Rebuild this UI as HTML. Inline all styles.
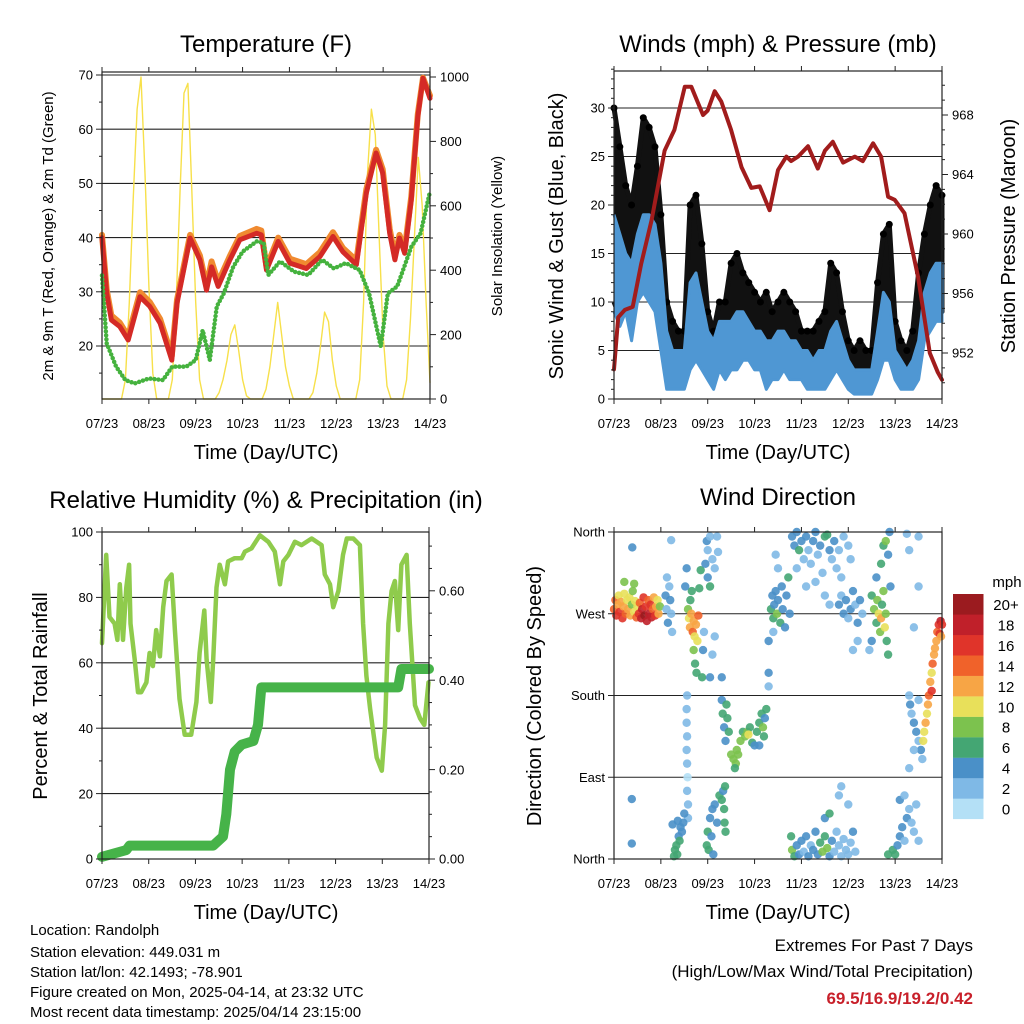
<!DOCTYPE html>
<html><head><meta charset="utf-8"><title>Station Meteogram</title>
<style>
html,body{margin:0;padding:0;background:#fff;}
svg{display:block;font-family:"Liberation Sans",Arial,sans-serif;}
</style></head>
<body>
<svg id="chart" width="1024" height="1024" viewBox="0 0 1024 1024" xmlns="http://www.w3.org/2000/svg">
<rect x="0" y="0" width="1024" height="1024" fill="#fff"/>
<text x="266" y="52" font-size="24" text-anchor="middle">Temperature (F)</text>
<text x="778" y="52" font-size="24" text-anchor="middle">Winds (mph) &amp; Pressure (mb)</text>
<text x="266" y="508" font-size="24" text-anchor="middle">Relative Humidity (%) &amp; Precipitation (in)</text>
<text x="778" y="505" font-size="24" text-anchor="middle">Wind Direction</text>
<text x="266" y="459" font-size="20" text-anchor="middle">Time (Day/UTC)</text>
<text x="778" y="459" font-size="20" text-anchor="middle">Time (Day/UTC)</text>
<text x="266" y="919" font-size="20" text-anchor="middle">Time (Day/UTC)</text>
<text x="778" y="919" font-size="20" text-anchor="middle">Time (Day/UTC)</text>
<text transform="translate(53,236) rotate(-90)" font-size="15" text-anchor="middle">2m &amp; 9m T (Red, Orange) &amp; 2m Td (Green)</text>
<text transform="translate(502,236) rotate(-90)" font-size="15" text-anchor="middle">Solar Insolation (Yellow)</text>
<text transform="translate(563,236) rotate(-90)" font-size="20" text-anchor="middle">Sonic Wind &amp; Gust (Blue, Black)</text>
<text transform="translate(1015,236) rotate(-90)" font-size="20" text-anchor="middle">Station Pressure (Maroon)</text>
<text transform="translate(47,696) rotate(-90)" font-size="20" text-anchor="middle">Percent &amp; Total Rainfall</text>
<text transform="translate(541,696) rotate(-90)" font-size="20" text-anchor="middle">Direction (Colored By Speed)</text>
<g font-size="15">
<text x="30" y="935">Location: Randolph</text>
<text x="30" y="957">Station elevation: 449.031 m</text>
<text x="30" y="977">Station lat/lon: 42.1493; -78.901</text>
<text x="30" y="997">Figure created on Mon, 2025-04-14, at 23:32 UTC</text>
<text x="30" y="1017">Most recent data timestamp: 2025/04/14 23:15:00</text>
</g>
<text x="973" y="951" font-size="17" text-anchor="end">Extremes For Past 7 Days</text>
<text x="973" y="977" font-size="17" text-anchor="end">(High/Low/Max Wind/Total Precipitation)</text>
<text x="973" y="1004" font-size="17" font-weight="bold" fill="#c8202a" text-anchor="end">69.5/16.9/19.2/0.42</text>
<text x="1007" y="587" font-size="15" text-anchor="middle">mph</text>
</svg>
<script>
// ---------- DATA ----------
var dayLabels = ["07/23","08/23","09/23","10/23","11/23","12/23","13/23","14/23"];
var tempDays = [0,0.1,0.2,0.38,0.56,0.81,1.02,1.24,1.49,1.6,1.88,2.09,2.23,2.34,2.48,2.73,2.94,3.3,3.4,3.51,3.76,4.01,4.36,4.65,4.93,5.14,5.43,5.64,5.85,5.99,6.14,6.25,6.35,6.46,6.6,6.74,6.85,7.0];
var temp9m = [40,29.7,24.8,23.6,21.1,29.1,27.3,24.2,17.4,27.9,39.9,35.9,30.3,34.6,31,35.9,39.6,40.8,40.5,34,39.3,35.3,34.3,36.5,40.2,37.4,35,48.2,55.6,51.9,40.8,35.9,39.9,37.1,47,62.3,69.4,65.7];
var temp2m = [40.5,30.4,25.6,24.3,21.8,29.9,28.1,25,18.2,28.5,40.5,36.7,31.1,35.6,31.8,36.6,40.3,41.6,41.3,34.6,40,36.1,35.1,37.3,41,38.1,35.8,48.9,56.2,52.6,41.6,36.6,40.5,37.8,47.6,62.8,69.5,66.2];
var dewDays = [0,0.1,0.3,0.5,0.7,1.0,1.3,1.5,1.8,2.0,2.15,2.3,2.45,2.6,2.8,3.0,3.3,3.45,3.55,3.8,4.1,4.4,4.7,4.95,5.2,5.5,5.7,5.95,6.1,6.3,6.45,6.6,6.8,7.0];
var dewVals = [33,20.5,16.2,13.7,13.1,14,13.7,16.2,16.2,17.4,22.9,17.4,27.3,29.7,34.6,37.4,39.3,39,33.1,35.6,33.7,33.1,35.9,34.3,35.3,34,29.7,19.9,29.7,31,34.6,38.3,40.8,48.5];
// solar every 2 hours from 07/23
var solarVals = [0,0,0,0,0,0,60,300,620,900,1000,700,350,80,0,0,0,0,60,300,650,950,980,650,300,60,0,0,0,0,20,60,120,200,230,150,60,10,0,0,0,0,30,100,200,300,200,100,40,0,0,0,0,0,20,80,170,270,240,120,40,0,0,0,0,0,60,300,700,900,820,500,200,40,0,0,0,0,60,250,500,750,600,300,50];
// winds every 3 hours
var gustVals = [30,26,22,20,24,29,28,26,19,10,8,7,7,20,21,16,9,7,10,10,14,15,13,12,11,10,11,9,10,11,10,9,7,7,7,8,9,14,13,9,6,5,6,5,5,12,17,18,8,6,5,7,13,17,20,22,21];
var windHi = [19,17,15,14,17,19,19,18,14,7,5,5,5,12,13,10,7,6,8,8,8,9,9,8,7,7,6,6,7,7,6,6,5,5,4,5,5,7,8,6,4,3,3,3,3,7,11,10,5,4,3,4,6,11,13,14,14];
var windLo = [9,7.5,9,6,10,11,10,9,5,1,1,1,1,3,4,3,2,1,3,2,3,3,4,4,3,3,1,2,2,3,2,2,2,1,1,1,1,2,3,2,1,0.5,0.5,0.5,0.5,2,4,4,2,1,1,1,2,6,7,8,8];
var presDays = [0,0.09,0.23,0.4,0.58,0.8,1.08,1.29,1.51,1.65,1.9,2.0,2.15,2.29,2.5,2.72,2.93,3.11,3.32,3.5,3.68,3.78,3.93,4.14,4.35,4.5,4.67,4.89,5.14,5.31,5.53,5.7,5.85,5.99,6.2,6.49,6.74,6.91,7.0];
var presVals = [950.9,954.4,954.9,955.1,958,960.9,965.6,967,969.9,969.9,968,968.3,969.6,968.9,967,964.5,963.1,963.2,961.6,964.3,965.2,964.9,965.2,965.9,964.4,965.6,966.2,964.8,965.2,964.9,966.1,965.2,962.5,962.3,961.4,957.1,952,950.7,950.2];
var rhDays = [0,0.09,0.16,0.27,0.33,0.38,0.45,0.52,0.58,0.61,0.7,0.77,0.84,0.95,1.02,1.09,1.16,1.24,1.31,1.38,1.49,1.56,1.66,1.77,1.91,2.02,2.09,2.19,2.24,2.33,2.38,2.45,2.52,2.63,2.7,2.84,2.99,3.06,3.2,3.38,3.56,3.7,3.81,3.88,3.99,4.13,4.27,4.49,4.7,4.77,4.88,4.95,5.06,5.16,5.24,5.38,5.52,5.59,5.66,5.74,5.88,5.99,6.06,6.13,6.2,6.27,6.34,6.41,6.52,6.59,6.7,6.81,6.9,6.99];
var rhVals = [66,93,74,72,67,84,67,83,90,72,61,51,51,54,63,59,70,62,77,85,87,70,49,38,38,48,63,76,61,48,61,83,90,84,91,92,92,94,95,99,97,94,84,91,93,97,96,98,96,87,84,77,82,93,98,98,96,72,56,46,31,27,41,72,82,85,70,90,93,72,47,43,41,54];
var precDays = [0,0.52,0.59,2.38,2.59,2.66,2.74,2.84,2.99,3.24,3.34,3.41,6.34,6.41,7.0];
var precVals = [0.005,0.02,0.03,0.03,0.05,0.1,0.2,0.24,0.256,0.264,0.3,0.384,0.384,0.425,0.425];
var speedBins = ["0","2","4","6","8","10","12","14","16","18","20+"];
var speedColors = ["#b4e0f6","#7fb9e6","#4a90c8","#44a673","#7cc24e","#e8e05a","#f7a545","#f0622a","#e0342a","#c0202a","#9b1b1f"];
var dirObs = [
[0.0,275,14],[0.03,285,13],[0.05,268,16],[0.08,280,12],[0.1,290,10],[0.12,272,15],[0.15,283,12],[0.18,265,16],[0.2,278,11],[0.22,292,9],[0.25,270,13],[0.28,285,10],[0.3,275,12],[0.33,288,9],[0.35,268,11],[0.38,280,8],[0.4,295,8],[0.43,272,10],[0.45,284,9],[0.48,266,13],[0.5,278,10],[0.53,270,16],[0.55,282,14],[0.58,265,18],[0.6,275,17],[0.63,288,15],[0.65,268,19],[0.68,278,16],[0.7,262,18],[0.73,285,13],[0.75,270,17],[0.78,280,15],[0.8,266,17],[0.83,275,14],[0.85,288,12],[0.88,268,15],[0.9,278,11],[0.93,285,9],[0.95,270,12],[0.98,278,8],[0.22,305,7],[0.43,303,8],[0.39,343,4],[0.38,17,4],[0.38,66,3],
[1.1,290,3],[1.12,275,2],[1.15,260,3],[1.18,300,2],[1.2,285,4],[1.22,270,2],[1.13,310,2],[1.24,250,2],[1.22,351,2],
[1.58,275,8],[1.6,265,10],[1.62,255,12],[1.65,270,11],[1.68,250,13],[1.7,262,12],[1.72,245,9],[1.75,258,11],[1.78,240,10],[1.8,268,13],[1.63,285,6],[1.66,295,6],[1.7,230,7],[1.73,215,6],[1.76,205,6],[1.55,320,3],[1.52,300,4],[1.82,298,5],[1.85,318,5],[1.9,230,3],[1.92,250,2],[1.88,200,6],
[1.56,180,2],[1.55,165,2],[1.55,150,1],[1.56,135,2],[1.55,120,1],[1.56,105,1],[1.57,90,0],[1.56,75,1],[1.58,60,1],[1.58,45,2],
[1.3,10,6],[1.33,15,5],[1.35,5,6],[1.38,25,4],[1.4,20,5],[1.42,35,4],[1.45,30,4],[1.48,40,3],[1.5,50,3],[1.28,3,5],[1.25,38,4],[1.36,42,4],
[1.98,15,6],[2.0,30,5],[2.02,10,6],[2.05,45,4],[2.08,25,3],[2.1,55,3],[2.12,5,4],[2.15,60,4],[2.2,40,3],[2.25,70,5],[2.3,65,6],[2.35,55,6],[2.36,40,6],[2.38,30,6],[2.33,75,4],[2.37,80,5],
[1.98,350,3],[2.0,340,2],[2.05,355,2],[2.1,330,2],[2.15,320,1],[2.2,355,1],[2.22,338,1],[1.95,325,3],[2.0,310,4],[2.05,300,5],[2.05,200,3],[2.1,225,2],[2.15,245,2],
[2.3,175,4],[2.32,160,6],[2.35,145,4],[2.38,130,4],[2.4,170,6],[2.42,155,6],[2.45,140,6],[2.5,115,8],[2.55,110,8],[2.6,105,8],[2.65,115,8],[2.62,120,8],[2.58,100,6],[2.7,130,8],[2.75,140,6],[2.8,135,8],[2.85,140,8],[2.9,145,6],[2.87,137,10],[2.95,128,6],[3.0,125,4],[3.05,140,6],[3.1,150,6],[3.15,160,6],[3.2,135,6],[3.22,155,4],[3.25,165,6],[3.18,145,8],[3.1,125,4],[2.3,200,4],[3.3,205,4],[3.3,190,1],
[3.35,275,6],[3.38,290,4],[3.4,265,6],[3.42,280,4],[3.45,295,4],[3.48,270,8],[3.5,285,4],[3.55,260,6],[3.58,300,4],[3.6,275,4],[3.65,255,4],[3.68,290,4],[3.72,310,5],[3.75,270,4],[3.4,250,2],[3.3,240,3],[3.5,320,2],[3.45,335,1],
[3.8,355,4],[3.85,345,4],[3.9,360,4],[3.95,340,6],[4.0,350,4],[4.05,330,2],[4.1,355,4],[4.15,340,2],[4.2,325,2],[4.25,350,4],[4.3,360,4],[4.35,335,2],[4.4,345,4],[4.45,315,2],[4.5,355,6],[4.55,357,6],[4.6,340,4],[4.65,330,2],[4.7,350,4],[4.75,320,2],[4.8,340,2],[4.85,310,2],[4.9,355,2],[5.0,345,2],[5.05,330,2],[3.9,320,2],[4.1,300,2],[4.3,305,2],[4.5,290,2],[4.6,280,2],
[4.8,280,4],[4.85,290,2],[4.9,270,4],[4.95,285,4],[5.0,265,2],[5.05,275,4],[5.1,295,4],[5.15,280,2],[5.2,260,4],[5.25,285,4],[5.3,270,2],[5.2,240,2],[5.1,230,2],
[5.5,290,6],[5.55,275,8],[5.6,260,6],[5.62,285,8],[5.65,270,10],[5.68,250,8],[5.7,265,12],[5.72,280,6],[5.75,295,8],[5.78,255,10],[5.8,270,8],[5.82,240,6],[5.85,225,6],[5.6,310,4],[5.7,325,6],[5.75,345,6],[5.8,350,8],[5.85,335,4],[5.88,360,4],[5.9,300,4],[5.5,240,4],[5.45,230,2],
[3.78,25,6],[3.8,10,8],[3.85,3,6],[3.9,15,4],[3.95,5,4],[4.0,20,4],[4.05,8,2],[4.1,25,4],[4.15,3,4],[4.2,15,2],[4.25,10,4],[4.3,30,4],[4.35,5,4],[4.4,18,6],[4.45,8,8],[4.5,25,6],[4.55,12,8],[4.6,3,4],[4.65,20,4],[4.7,8,2],[4.75,30,2],[4.8,15,2],[4.85,3,2],[4.9,22,2],[4.95,10,2],[5.0,5,2],[5.05,18,2],[5.1,30,4],[5.15,8,2],[4.5,45,4],[4.6,50,6],[4.8,70,2],[4.85,80,2],[5.0,60,2],
[5.95,10,6],[6.0,5,6],[6.05,15,4],[6.1,25,4],[6.15,35,4],[6.2,20,2],[6.25,45,4],[6.3,55,2],[6.35,40,2],[6.4,30,2],[6.45,60,2],[6.5,20,2],[6.1,65,4],[6.2,70,2],[5.85,5,6],
[6.3,180,2],[6.32,170,4],[6.35,160,2],[6.4,150,4],[6.45,140,4],[6.5,130,2],[6.55,120,4],[6.58,110,2],[6.4,120,2],[6.3,100,2],[6.5,175,2],
[6.6,130,10],[6.62,140,10],[6.65,150,12],[6.68,160,10],[6.7,170,12],[6.72,180,14],[6.75,195,12],[6.78,205,10],[6.8,215,14],[6.83,225,12],[6.85,232,11],[6.88,240,12],[6.9,250,14],[6.93,258,16],[6.95,248,15],[6.97,262,17],[7.0,258,16],[6.98,245,12],[6.78,185,16],
[6.25,358,2],[6.3,340,2],[6.5,355,2],[6.5,300,2],[6.4,255,2]
];
// ---------- DRAW ----------
var NS = "http://www.w3.org/2000/svg";
var svg = document.getElementById("chart");
function mk(tag, attrs, parent) {
  var el = document.createElementNS(NS, tag);
  for (var k in attrs) el.setAttribute(k, attrs[k]);
  (parent || svg).appendChild(el);
  return el;
}
function panel(L, R, T, B) { return {L:L, R:R, T:T, B:B, x:function(d){return L + d / 7 * (R - L);}}; }
var P1 = panel(102, 430, 72, 399), P2 = panel(614, 942, 71, 399), P3 = panel(102, 429, 532, 859), P4 = panel(614, 942, 532, 859);
function yT(v){return 346 - (v - 20) * 5.42;}
function ySol(v){return 399 - v * 0.322;}
function yW(v){return 399 - v * 9.7;}
function yP(v){return 353 - (v - 952) * 14.875;}
function yRH(v){return 859 - v * 3.27;}
function yPr(v){return 859 - v * 447;}
function yDir(v){return 859 - v / 360 * 327;}

function grid(P, ys, name) {
  for (var i = 0; i < ys.length; i++) {
    var g = mk("line", {x1:P.L, x2:P.R, y1:ys[i], y2:ys[i], stroke:"#222", "stroke-width":1.1});
    
    
  }
}
function frame(P, name) {
  var f = mk("rect", {x:P.L, y:P.T, width:P.R - P.L, height:P.B - P.T, fill:"none", stroke:"#222", "stroke-width":1.2});
  
  
  for (var i = 0; i < dayLabels.length; i++) {
    var x = P.x(i);
    var t1 = mk("line", {x1:x, x2:x, y1:P.B, y2:P.B + 5, stroke:"#222"});
    
    
    var t2 = mk("line", {x1:x, x2:x, y1:P.T, y2:P.T - 5, stroke:"#222"});
    
    
    var lb = mk("text", {x:x, y:P.B + 29, "font-size":13, "text-anchor":"middle"});
    lb.textContent = dayLabels[i];
    
    
  }
}
function yTicks(side, P, vals, fy, labels, fs, name, major) {
  for (var i = 0; i < vals.length; i++) {
    var y = fy(vals[i]);
    var isMaj = labels[i] !== null;
    var len = isMaj ? 6 : 3;
    var x0 = side === "L" ? P.L : P.R;
    var tk = mk("line", {x1:x0, x2:side === "L" ? x0 - len : x0 + len, y1:y, y2:y, stroke:"#222"});
    
    
    if (isMaj) {
      var tx = mk("text", {x:side === "L" ? x0 - 9 : x0 + 10, y:y + fs * 0.36, "font-size":fs, "text-anchor":side === "L" ? "end" : "start"});
      tx.textContent = labels[i];
      
      
    }
  }
}
function line(pts, attrs, name) {
  var d = "";
  for (var i = 0; i < pts.length; i++) d += (i ? "L" : "M") + pts[i][0].toFixed(1) + "," + pts[i][1].toFixed(1);
  attrs.d = d; if (!attrs.fill) attrs.fill = "none";
  var p = mk("path", attrs);
  
  
  return p;
}

// ---- Panel 1: temperature ----
grid(P1, [20,30,40,50,60,70].map(yT), 'temperature-gridline');
var solPts = solarVals.map(function(v, i){ return [P1.x(i * 2 / 24), ySol(v)]; });
line(solPts, {stroke:"#f7e04a", "stroke-width":1.4, "stroke-linejoin":"round"}, 'solar-insolation-line');
line(tempDays.map(function(d, i){ return [P1.x(d), yT(temp2m[i])]; }), {stroke:"#f08a30", "stroke-width":6, "stroke-linejoin":"round", "stroke-linecap":"round"}, 'temperature-2m-line');
line(tempDays.map(function(d, i){ return [P1.x(d), yT(temp9m[i])]; }), {stroke:"#d42a26", "stroke-width":5, "stroke-linejoin":"round", "stroke-linecap":"round"}, 'temperature-9m-line');
line(dewDays.map(function(d, i){ return [P1.x(d), yT(dewVals[i])]; }), {stroke:"#45b23e", "stroke-width":4.5, "stroke-dasharray":"0 4", "stroke-linecap":"round", "stroke-linejoin":"round"}, 'dewpoint-line');
frame(P1, 'temperature-plot-frame');
var t1v = [], t1l = [];
for (var v = 15; v <= 70; v += 5) { t1v.push(v); t1l.push(v % 10 === 0 ? String(v) : null); }
yTicks("L", P1, t1v, yT, t1l, 13, 'temperature-y', true);
var s1v = [], s1l = [];
for (var v = 0; v <= 1000; v += 100) { s1v.push(v); s1l.push(v % 200 === 0 ? String(v) : null); }
yTicks("R", P1, s1v, ySol, s1l, 13, 'solar-y', true);

// ---- Panel 2: winds & pressure ----
grid(P2, [5,10,15,20,25,30].map(yW), 'wind-gridline');
var gustPoly = [], i;
for (i = 0; i < gustVals.length; i++) gustPoly.push([P2.x(i * 3 / 24), yW(gustVals[i])]);
for (i = windHi.length - 1; i >= 0; i--) gustPoly.push([P2.x(i * 3 / 24), yW(windLo[i] + 1)]);
line(gustPoly, {fill:"#111", stroke:"#111", "stroke-width":5, "stroke-linejoin":"round"}, 'gust-cloud');
for (i = 0; i < gustVals.length; i++) {
  var gd = mk("circle", {cx:P2.x(i * 3 / 24), cy:yW(gustVals[i]), r:3.5, fill:"#000"});
  
  
}
var windPoly = [];
for (i = 0; i < windHi.length; i++) windPoly.push([P2.x(i * 3 / 24), yW(windHi[i])]);
for (i = windLo.length - 1; i >= 0; i--) windPoly.push([P2.x(i * 3 / 24), yW(windLo[i])]);
line(windPoly, {fill:"#4f97d3", stroke:"#4f97d3", "stroke-width":3, "stroke-linejoin":"round"}, 'sonic-wind-band');
line(presDays.map(function(d, k){ return [P2.x(d), yP(presVals[k])]; }), {stroke:"#a11c1c", "stroke-width":4, "stroke-linejoin":"round", "stroke-linecap":"round"}, 'pressure-line');
frame(P2, 'winds-plot-frame');
var w2v = [], w2l = [];
for (var v = 0; v <= 34; v += 1) { w2v.push(v); w2l.push(v % 5 === 0 ? String(v) : null); }
yTicks("L", P2, w2v, yW, w2l, 13, 'wind-y', true);
var p2v = [], p2l = [];
for (var v = 950; v <= 970; v += 1) { p2v.push(v); p2l.push((v - 952) % 4 === 0 && v >= 952 && v <= 968 ? String(v) : null); }
yTicks("R", P2, p2v, yP, p2l, 13, 'pressure-y', true);

// ---- Panel 3: RH & precip ----
grid(P3, [20,40,60,80].map(yRH), 'humidity-gridline');
line(rhDays.map(function(d, k){ return [P3.x(d), yRH(rhVals[k])]; }), {stroke:"#8fcb4c", "stroke-width":4.5, "stroke-linejoin":"round", "stroke-linecap":"round"}, 'relative-humidity-line');
line(precDays.map(function(d, k){ return [P3.x(d), yPr(precVals[k])]; }), {stroke:"#46b349", "stroke-width":10, "stroke-linejoin":"round", "stroke-linecap":"round"}, 'precipitation-line');
frame(P3, 'humidity-plot-frame');
var r3v = [], r3l = [];
for (var v = 0; v <= 100; v += 10) { r3v.push(v); r3l.push(v % 20 === 0 ? String(v) : null); }
yTicks("L", P3, r3v, yRH, r3l, 13, 'humidity-y', true);
var q3v = [], q3l = [];
for (var v = 0; v <= 7; v += 1) { q3v.push(v * 0.1); q3l.push(v % 2 === 0 ? (v * 0.1).toFixed(2) : null); }
for (var v = 0; v < 14; v++) { var yy = 0.05 + v * 0.1; if (yy < 0.73) { q3v.push(yy); q3l.push(null); } }
yTicks("R", P3, q3v, yPr, q3l, 13, 'precip-y', true);

// ---- Panel 4: wind direction ----
grid(P4, [90,180,270].map(yDir), 'direction-gridline');
function speedColor(s){ var k = Math.round(s / 2); if (k > 10) k = 10; if (k < 0) k = 0; return speedColors[k]; }
for (i = 0; i < dirObs.length; i++) {
  var ob = dirObs[i];
  var c = mk("circle", {cx:P4.x(ob[0]), cy:yDir(ob[1]), r:4.2, fill:speedColor(ob[2]), "fill-opacity":0.9});
  
  
}
frame(P4, 'direction-plot-frame');
var dirV = [0,90,180,270,360], dirL = ["North","East","South","West","North"];
yTicks("L", P4, dirV, yDir, dirL, 13, 'direction-y', true);
// colorbar
for (i = 0; i < speedBins.length; i++) {
  var yb = 594 + (10 - i) * 20.45;
  var b = mk("rect", {x:953, y:yb, width:30.5, height:20.6, fill:speedColors[i]});
  
  
  var bl = mk("text", {x:1006, y:yb + 16, "font-size":15, "text-anchor":"middle"});
  bl.textContent = speedBins[i];
  
  
}
</script>
</body></html>
